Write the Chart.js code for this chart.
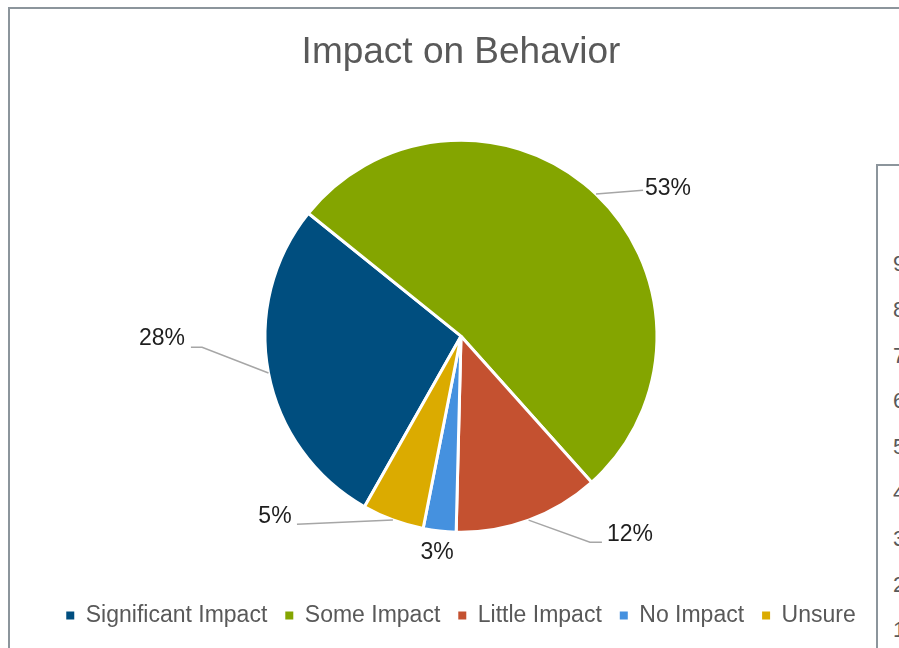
<!DOCTYPE html>
<html>
<head>
<meta charset="utf-8">
<script src="https://cdn.jsdelivr.net/npm/chart.js@4.4.1/dist/chart.umd.min.js"></script>
<style>
  body { margin: 0; background: #fff; width: 899px; height: 648px; overflow: hidden; position: relative; font-family: "Liberation Sans", Arial, sans-serif; }
  #frame { position: absolute; left: 8px; top: 7px; width: 1000px; height: 700px; border: 2px solid #8c959c; box-sizing: border-box; }
  #pie { position: absolute; left: 0; top: 0; }
  #side { position: absolute; left: 876px; top: 164px; width: 200px; height: 600px; border: 2px solid #8c959c; background: #fff; }
  .tick { position: absolute; left: 15px; font-size: 22px; line-height: 22px; color: #595959; }
</style>
</head>
<body>
<div id="frame"></div>
<canvas id="pie" width="899" height="648"></canvas>
<div id="side"></div>
<script>
// values
const categories = ['Significant Impact', 'Some Impact', 'Little Impact', 'No Impact', 'Unsure'];
const shares = [27.6, 52.6, 12.0, 2.7, 5.1];
const sideTicks = ['9', '8', '7', '6', '5', '4', '3', '2', '1'];

const colors = ['#004e7f', '#84a500', '#c45130', '#4591df', '#dbab00'];

const total = shares.reduce((a, b) => a + b, 0);
const percentLabels = shares.map(v => Math.round(v / total * 100) + '%');

// where each percentage sits, in units of the pie radius from its centre
const labelLayout = [
  { text: [-1.526, 0.015], line: [[-1.321, 0.056], [-1.378, 0.056]] },
  { text: [1.056, -0.755], line: [[0.929, -0.745]] },
  { text: [0.862, 1.015], line: [[0.658, 1.051], [0.719, 1.051]] },
  { text: [-0.122, 1.102], line: [] },
  { text: [-0.949, 0.921], line: [[-0.837, 0.959]] }
];

const outsideLabels = {
  id: 'outsideLabels',
  afterDatasetsDraw(chart) {
    const ctx = chart.ctx;
    const arcs = chart.getDatasetMeta(0).data;
    ctx.save();
    arcs.forEach((arc, i) => {
      const p = arc.getProps(['x', 'y', 'startAngle', 'endAngle', 'outerRadius'], true);
      const r = p.outerRadius;
      const mid = (p.startAngle + p.endAngle) / 2;
      const lay = labelLayout[i];
      if (lay.line.length) {
        ctx.beginPath();
        ctx.moveTo(p.x + Math.cos(mid) * r, p.y + Math.sin(mid) * r);
        lay.line.forEach(pt => ctx.lineTo(p.x + pt[0] * r, p.y + pt[1] * r));
        ctx.strokeStyle = '#a6a6a6';
        ctx.lineWidth = 1.5;
        ctx.stroke();
      }
      ctx.font = '23px "Liberation Sans", Arial, sans-serif';
      ctx.fillStyle = '#1e1e1e';
      ctx.textAlign = 'center';
      ctx.textBaseline = 'middle';
      ctx.fillText(percentLabels[i], p.x + lay.text[0] * r, p.y + lay.text[1] * r);
    });
    ctx.restore();
  }
};

new Chart(document.getElementById('pie'), {
  type: 'pie',
  data: {
    labels: categories,
    datasets: [{
      data: shares,
      backgroundColor: colors,
      borderColor: '#ffffff',
      borderWidth: 3
    }]
  },
  options: {
    responsive: false,
    animation: false,
    rotation: 209.5,
    radius: 196,
    layout: { padding: { left: 23, right: 0, top: 0, bottom: 11 } },
    plugins: {
      tooltip: { enabled: false },
      title: {
        display: true,
        text: 'Impact on Behavior',
        color: '#595959',
        font: { family: '"Liberation Sans", Arial, sans-serif', size: 37, weight: 'normal' },
        padding: { top: 31, bottom: 11 }
      },
      legend: {
        position: 'bottom',
        labels: {
          font: { family: '"Liberation Sans", Arial, sans-serif', size: 23 },
          color: '#595959',
          boxWidth: 8,
          boxHeight: 8,
          padding: 18,
          generateLabels: chart => chart.data.labels.map((t, i) => ({
            text: t, fillStyle: colors[i], strokeStyle: colors[i], lineWidth: 0,
            hidden: false, index: i, fontColor: '#595959'
          }))
        }
      }
    }
  },
  plugins: [outsideLabels]
});

// tick labels of the neighbouring chart, cut off at the right edge
const side = document.getElementById('side');
sideTicks.forEach((t, i) => {
  const s = document.createElement('span');
  s.className = 'tick';
  s.textContent = t;
  s.style.top = (87 + i * 45.8) + 'px';
  side.appendChild(s);
});
</script>
</body>
</html>
